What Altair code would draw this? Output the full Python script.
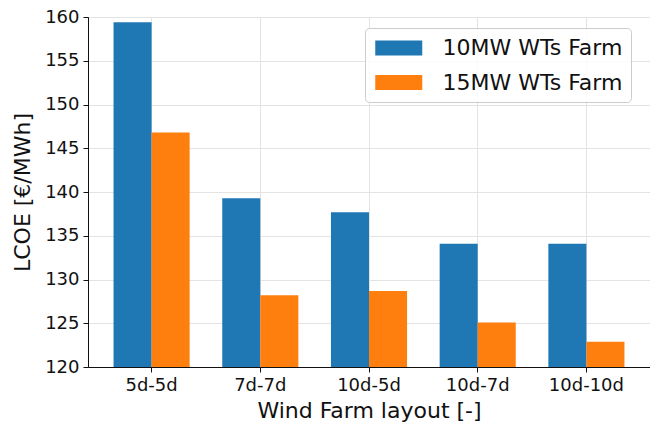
import altair as alt
import pandas as pd

# Wind farm layouts and LCOE per turbine rating
layouts = ["5d-5d", "7d-7d", "10d-5d", "10d-7d", "10d-10d"]
lcoe_10mw = [159.4, 139.3, 137.7, 134.1, 134.1]
lcoe_15mw = [146.8, 128.2, 128.7, 125.1, 122.9]
series = ["10MW WTs Farm", "15MW WTs Farm"]
colors = ["#1f77b4", "#ff7f0e"]
y_ticks = [120, 125, 130, 135, 140, 145, 150, 155, 160]

rows = []
for name, vals in zip(series, [lcoe_10mw, lcoe_15mw]):
    for lay, v in zip(layouts, vals):
        rows.append({"layout": lay, "farm": name, "lcoe": v})
df = pd.DataFrame(rows)

font = "DejaVu Sans"

bars = alt.Chart(df).mark_bar(clip=True).encode(
    x=alt.X(
        "layout:N",
        sort=layouts,
        scale=alt.Scale(paddingInner=0.3, paddingOuter=0.235),
        axis=alt.Axis(
            title="Wind Farm layout [-]",
            labelAngle=0,
            grid=True,
            bandPosition=0.5,
            tickBand="center",
        ),
    ),
    xOffset=alt.XOffset("farm:N", sort=series,
                        scale=alt.Scale(paddingInner=0, paddingOuter=0)),
    y=alt.Y(
        "lcoe:Q",
        scale=alt.Scale(domain=[120, 160], nice=False, zero=False),
        axis=alt.Axis(title="LCOE [€/MWh]", values=y_ticks, grid=True),
    ),
    color=alt.Color(
        "farm:N",
        sort=series,
        scale=alt.Scale(domain=series, range=colors),
        legend=alt.Legend(
            title=None,
            orient="none",
            legendX=277,
            legendY=11,
            # wide flat patch, drawn larger than its nominal size
            symbolType="M-2,-0.64L2,-0.64L2,0.64L-2,0.64Z",
            symbolSize=552,
            symbolOffset=13.75,
            symbolStrokeWidth=0,
            labelFontSize=22,
            labelFont=font,
            labelColor="#111",
            labelOffset=31.75,
            labelLimit=400,
            rowPadding=11.5,
            padding=8,
            strokeColor="#cccccc",
            fillColor="rgba(255,255,255,0.85)",
            cornerRadius=4,
        ),
    ),
)

chart = bars.properties(
    width=562,
    height=350,
    autosize=alt.AutoSizeParams(type="none"),
    padding={"left": 88, "top": 17, "right": 0, "bottom": 58},
).configure_view(
    stroke="#222222", strokeWidth=1
).configure_axis(
    labelFont=font,
    titleFont=font,
    labelFontSize=18,
    titleFontSize=22,
    titleFontWeight="normal",
    labelColor="#111",
    titleColor="#111",
    domainColor="#111",
    tickColor="#111",
    tickSize=5,
    labelPadding=4,
    gridColor="#e3e3e3",
    gridWidth=1,
).configure_axisX(
    titlePadding=6,
).configure_axisY(
    titlePadding=10,
)

chart.save("out.html", embed_options={"renderer": "svg", "actions": False})
